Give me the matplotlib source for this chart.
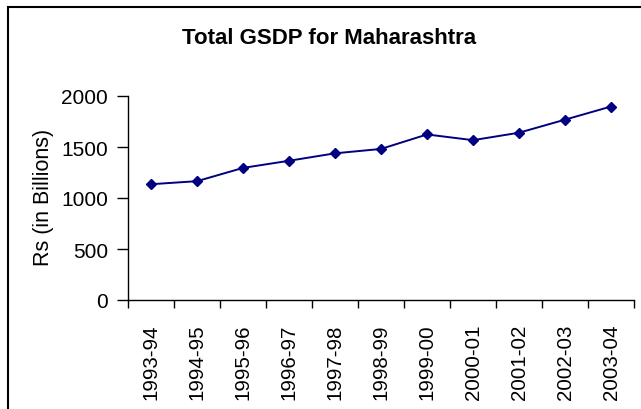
import numpy as np
import matplotlib
matplotlib.use('Agg')
import matplotlib.pyplot as plt
from matplotlib.patches import Rectangle


years = ['1993-94', '1994-95', '1995-96', '1996-97', '1997-98', '1998-99',
         '1999-00', '2000-01', '2001-02', '2002-03', '2003-04']
gsdp = [1135, 1165, 1295, 1365, 1438, 1481, 1623, 1567, 1640, 1768, 1897]

plt.rcParams['font.family'] = ['Liberation Sans', 'DejaVu Sans']

fig = plt.figure(figsize=(6.41, 4.10), dpi=100)
ax = fig.add_axes([128/641, 1 - 301/410, 506/641, 204/410])

x = np.arange(len(years))
ax.plot(x, gsdp, color='#000080', linewidth=1.4, marker='D', markersize=4.8,
        markerfacecolor='#000080', markeredgecolor='#000080')

ax.set_xlim(-0.5, len(years) - 0.5)
ax.set_ylim(0, 2000)
ax.set_yticks([0, 500, 1000, 1500, 2000])

# labels sit on the categories, tick marks between them
ax.set_xticks(x)
ax.set_xticklabels(years, rotation=90)
ax.set_xticks(np.arange(-0.5, len(years)), minor=True)
ax.tick_params(axis='x', which='major', length=0, pad=17, labelsize=14.8)
ax.tick_params(axis='x', which='minor', length=6, width=1, direction='out')
ax.tick_params(axis='y', length=8, width=1, pad=6.5, labelsize=15)

for side in ['top', 'right']:
    ax.spines[side].set_visible(False)
for side in ['left', 'bottom']:
    ax.spines[side].set_linewidth(1)

fig.text(43/641, 1 - 197/410, 'Rs (in Billions)', rotation=90,
         ha='center', va='center', fontsize=15.5)
fig.text(329/641, 1 - 38/410, 'Total GSDP for Maharashtra',
         ha='center', va='center', fontsize=16, fontweight='bold')

# chart frame
fig.patches.append(Rectangle((8/641, -0.5), 1.2, 1.5 - 8/410, transform=fig.transFigure,
                             fill=False, edgecolor='black', linewidth=1.5))

fig.savefig('out.png', dpi=100)
